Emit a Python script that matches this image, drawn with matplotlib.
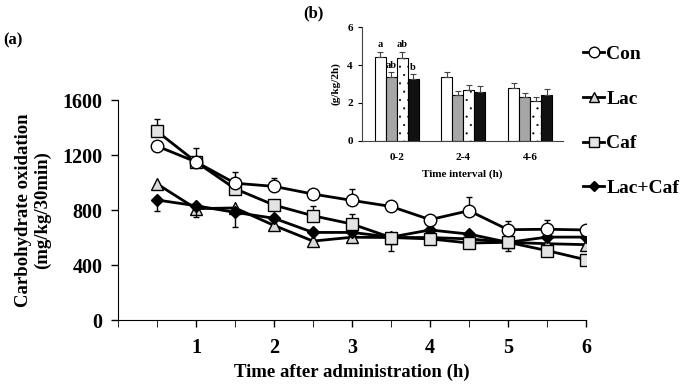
import numpy as np
import matplotlib
matplotlib.use("Agg")
import matplotlib.pyplot as plt
from matplotlib.lines import Line2D

plt.rcParams['font.family'] = ['Liberation Serif', 'DejaVu Serif']
plt.rcParams['font.weight'] = 'bold'
plt.rcParams['hatch.linewidth'] = 0.3
plt.rcParams['hatch.color'] = '#555555'

# ---- main panel data (a) ----
time_h = [0.5, 1, 1.5, 2, 2.5, 3, 3.5, 4, 4.5, 5, 5.5, 6]
con = [1265, 1150, 995, 972, 916, 870, 826, 730, 795, 657, 660, 655]
lac = [990, 810, 815, 688, 574, 602, 600, 600, 590, 565, 555, 548]
caf = [1372, 1150, 955, 836, 758, 698, 600, 590, 560, 565, 505, 438]
lac_caf = [873, 831, 783, 740, 637, 637, 603, 655, 625, 565, 603, 603]

con_err = [0, 100, 80, 60, 0, 80, 0, 0, 100, 60, 70, 0]
caf_err = [90, 0, 0, 0, 70, 70, 0, 0, 0, 0, 0, 0]
lac_err = [0, 0, 0, 30, 30, 0, 0, 0, 0, 0, 0, 0]
lac_caf_err = [80, 80, 110, 0, 0, 0, 100, 0, 0, 60, 0, 0]

# ---- inset data (b) ----
intervals = ['0-2', '2-4', '4-6']
bar_con = [4.44, 3.35, 2.80]
bar_lac = [3.35, 2.42, 2.30]
bar_caf = [4.36, 2.68, 2.10]
bar_lac_caf = [3.28, 2.58, 2.42]
bar_con_err = [0.27, 0.27, 0.28]
bar_lac_err = [0.27, 0.23, 0.21]
bar_caf_err = [0.35, 0.26, 0.19]
bar_lac_caf_err = [0.26, 0.32, 0.32]
letters_02 = ['a', 'ab', 'ab', 'b']

fig = plt.figure(figsize=(6.89, 3.85), dpi=100)
ax = fig.add_axes([0.1713, 0.1688, 0.6792, 0.5714])

# (values, lower err, upper err, marker, face colour, marker size, label)
series = [
    (lac, lac_err, None, '^', '#d8d8d8', 8, 'Lac'),
    (lac_caf, lac_caf_err, None, 'D', 'black', 6.5, 'Lac+Caf'),
    (caf, None, caf_err, 's', '#e4e4e4', 8, 'Caf'),
    (con, None, con_err, 'o', 'white', 9, 'Con'),
]
z = [0] * len(time_h)
handles = {}
for k, (vals, lo, hi, mk, fc, ms, lab) in enumerate(series):
    ax.errorbar(time_h, vals, yerr=[lo or z, hi or z], color='black', lw=2,
                marker=mk, markerfacecolor=fc, markeredgecolor='black', markersize=ms,
                markeredgewidth=1, capsize=2.5, elinewidth=1, ecolor='black', zorder=3 + k)
    handles[lab] = Line2D([], [], color='black', lw=2, marker=mk, markerfacecolor=fc,
                          markeredgecolor='black', markersize=ms * 0.85)

ax.set_xlim(0, 6)
ax.set_ylim(0, 1600)
ax.set_xticks([1, 2, 3, 4, 5, 6])
ax.set_xticks(np.arange(0, 6.01, 0.5), minor=True)
ax.set_yticks([0, 400, 800, 1200, 1600])
ax.tick_params(axis='both', labelsize=14.5, direction='out', width=1)
ax.tick_params(axis='x', which='both', length=5, pad=8)
ax.tick_params(axis='y', length=5, pad=6)
for s in ['top', 'right']:
    ax.spines[s].set_visible(False)
ax.set_xlabel('Time after administration (h)', fontsize=13.5, fontweight='bold', labelpad=4)
ax.set_ylabel('Carbohydrate oxidation\n(mg/kg/30min)', fontsize=13.5, fontweight='bold',
              labelpad=8, linespacing=1.2)

names = ['Con', 'Lac', 'Caf', 'Lac+Caf']
fig.legend([handles[n] for n in names], names,
           loc='upper left', bbox_to_anchor=(0.835, 0.903), frameon=False,
           fontsize=14, handlelength=1.1, handletextpad=0.1, labelspacing=1.4,
           borderaxespad=0)

fig.text(0.005, 0.885, '(a)', fontsize=12, fontweight='bold')
fig.text(0.44, 0.955, '(b)', fontsize=12, fontweight='bold')

# ---- inset ----
axb = fig.add_axes([0.5254, 0.6345, 0.2913, 0.2945])
x = np.arange(len(intervals))
w = 0.165
bar_sets = [(bar_con, bar_con_err, 'white', None),
            (bar_lac, bar_lac_err, '#a6a6a6', None),
            (bar_caf, bar_caf_err, 'white', '..'),
            (bar_lac_caf, bar_lac_caf_err, '#111111', None)]
for i, (vals, errs, fc, hatch) in enumerate(bar_sets):
    pos = x + (i - 1.5) * w
    axb.bar(pos, vals, w, color=fc, edgecolor='black', linewidth=0.8, hatch=hatch,
            yerr=[np.zeros(len(errs)), errs], capsize=2,
            error_kw=dict(elinewidth=0.8, ecolor='#444444', capthick=0.8))
    axb.text(pos[0], vals[0] + errs[0] + 0.12, letters_02[i], ha='center', va='bottom',
             fontsize=7.5, fontweight='bold')

axb.set_xlim(-0.52, 2.49)
axb.set_ylim(0, 6)
axb.set_yticks([0, 2, 4, 6])
axb.set_xticks(x)
axb.set_xticklabels(intervals)
axb.tick_params(axis='both', labelsize=8, length=3, width=0.8)
axb.tick_params(axis='x', length=0, pad=9)
for s in ['top', 'right']:
    axb.spines[s].set_visible(False)
axb.spines['left'].set_color('#444444')
axb.spines['bottom'].set_color('#444444')
axb.set_xlabel('Time interval (h)', fontsize=8, fontweight='bold', labelpad=5)
axb.set_ylabel('(g/kg/2h)', fontsize=8, fontweight='bold', labelpad=5)

fig.savefig('out.png', dpi=100)
